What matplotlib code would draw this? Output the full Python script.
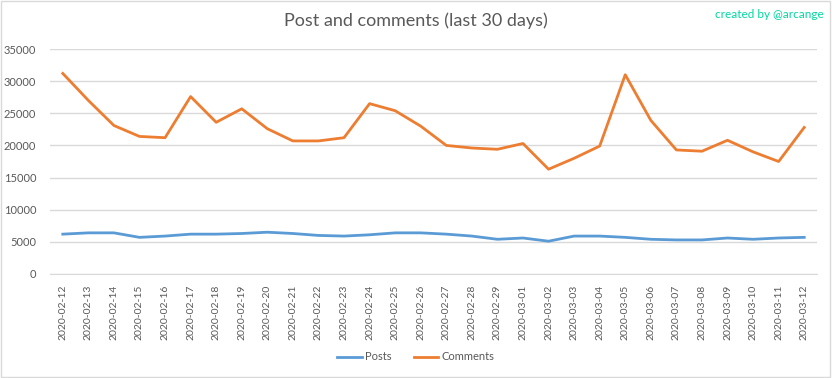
import matplotlib.pyplot as plt
from matplotlib.patches import Rectangle

dates = ["2020-02-12", "2020-02-13", "2020-02-14", "2020-02-15", "2020-02-16",
         "2020-02-17", "2020-02-18", "2020-02-19", "2020-02-20", "2020-02-21",
         "2020-02-22", "2020-02-23", "2020-02-24", "2020-02-25", "2020-02-26",
         "2020-02-27", "2020-02-28", "2020-02-29", "2020-03-01", "2020-03-02",
         "2020-03-03", "2020-03-04", "2020-03-05", "2020-03-06", "2020-03-07",
         "2020-03-08", "2020-03-09", "2020-03-10", "2020-03-11", "2020-03-12"]
posts = [6200, 6400, 6400, 5700, 5900, 6200, 6200, 6300, 6500, 6300,
         6000, 5900, 6100, 6400, 6400, 6200, 5900, 5400, 5600, 5100,
         5900, 5900, 5700, 5400, 5300, 5300, 5600, 5400, 5600, 5700]
comments = [31200, 27000, 23100, 21400, 21200, 27600, 23600, 25700, 22600, 20700,
            20700, 21200, 26500, 25400, 23000, 20000, 19600, 19400, 20300, 16300,
            18000, 19900, 31000, 23900, 19300, 19100, 20800, 19000, 17500, 22800]

BLUE = "#5B9BD5"
ORANGE = "#ED7D31"
GREY = "#595959"
GRID = "#D9D9D9"

plt.rcParams["font.family"] = ["Lato", "DejaVu Sans"]

fig = plt.figure(figsize=(8.32, 3.78), dpi=100)
fig.patch.set_facecolor("white")
fig.patches.append(Rectangle((0.001, 0.002), 0.997, 0.995, transform=fig.transFigure,
                             fill=False, edgecolor="#D9D9D9", linewidth=1.0))

ax = fig.add_axes([50 / 832, 1 - 274 / 378, 767 / 832, 225 / 378])
x = list(range(len(dates)))
ax.plot(x, posts, color=BLUE, linewidth=2.0, label="Posts")
ax.plot(x, comments, color=ORANGE, linewidth=2.0, label="Comments")

ax.set_xlim(-0.5, len(dates) - 0.5)
ax.set_ylim(0, 35000)
ax.set_yticks(range(0, 35001, 5000))
ax.set_xticks(x)
ax.set_xticklabels(dates, rotation=90, fontsize=7.5, color=GREY)
ax.tick_params(axis="y", labelsize=8, colors=GREY, length=0, pad=10)
ax.tick_params(axis="x", length=0, pad=8)
ax.grid(axis="y", color=GRID, linewidth=1.0)
ax.set_axisbelow(True)
for s in ["top", "right", "left"]:
    ax.spines[s].set_visible(False)
ax.spines["bottom"].set_color(GRID)

fig.text(0.5, 1 - 21 / 378, "Post and comments (last 30 days)", ha="center", va="center",
         fontsize=13, color=GREY)
fig.text(1 - 8 / 832, 1 - 14 / 378, "created by @arcange", ha="right", va="center",
         fontsize=8.5, color="#00D9A0")

fig.legend(loc="center", bbox_to_anchor=(0.5, 1 - 357 / 378), ncol=2, frameon=False,
           fontsize=8, labelcolor=GREY, handlelength=2.2, columnspacing=2.0,
           handletextpad=0.3)

fig.savefig("out.png", dpi=100, facecolor="white")
